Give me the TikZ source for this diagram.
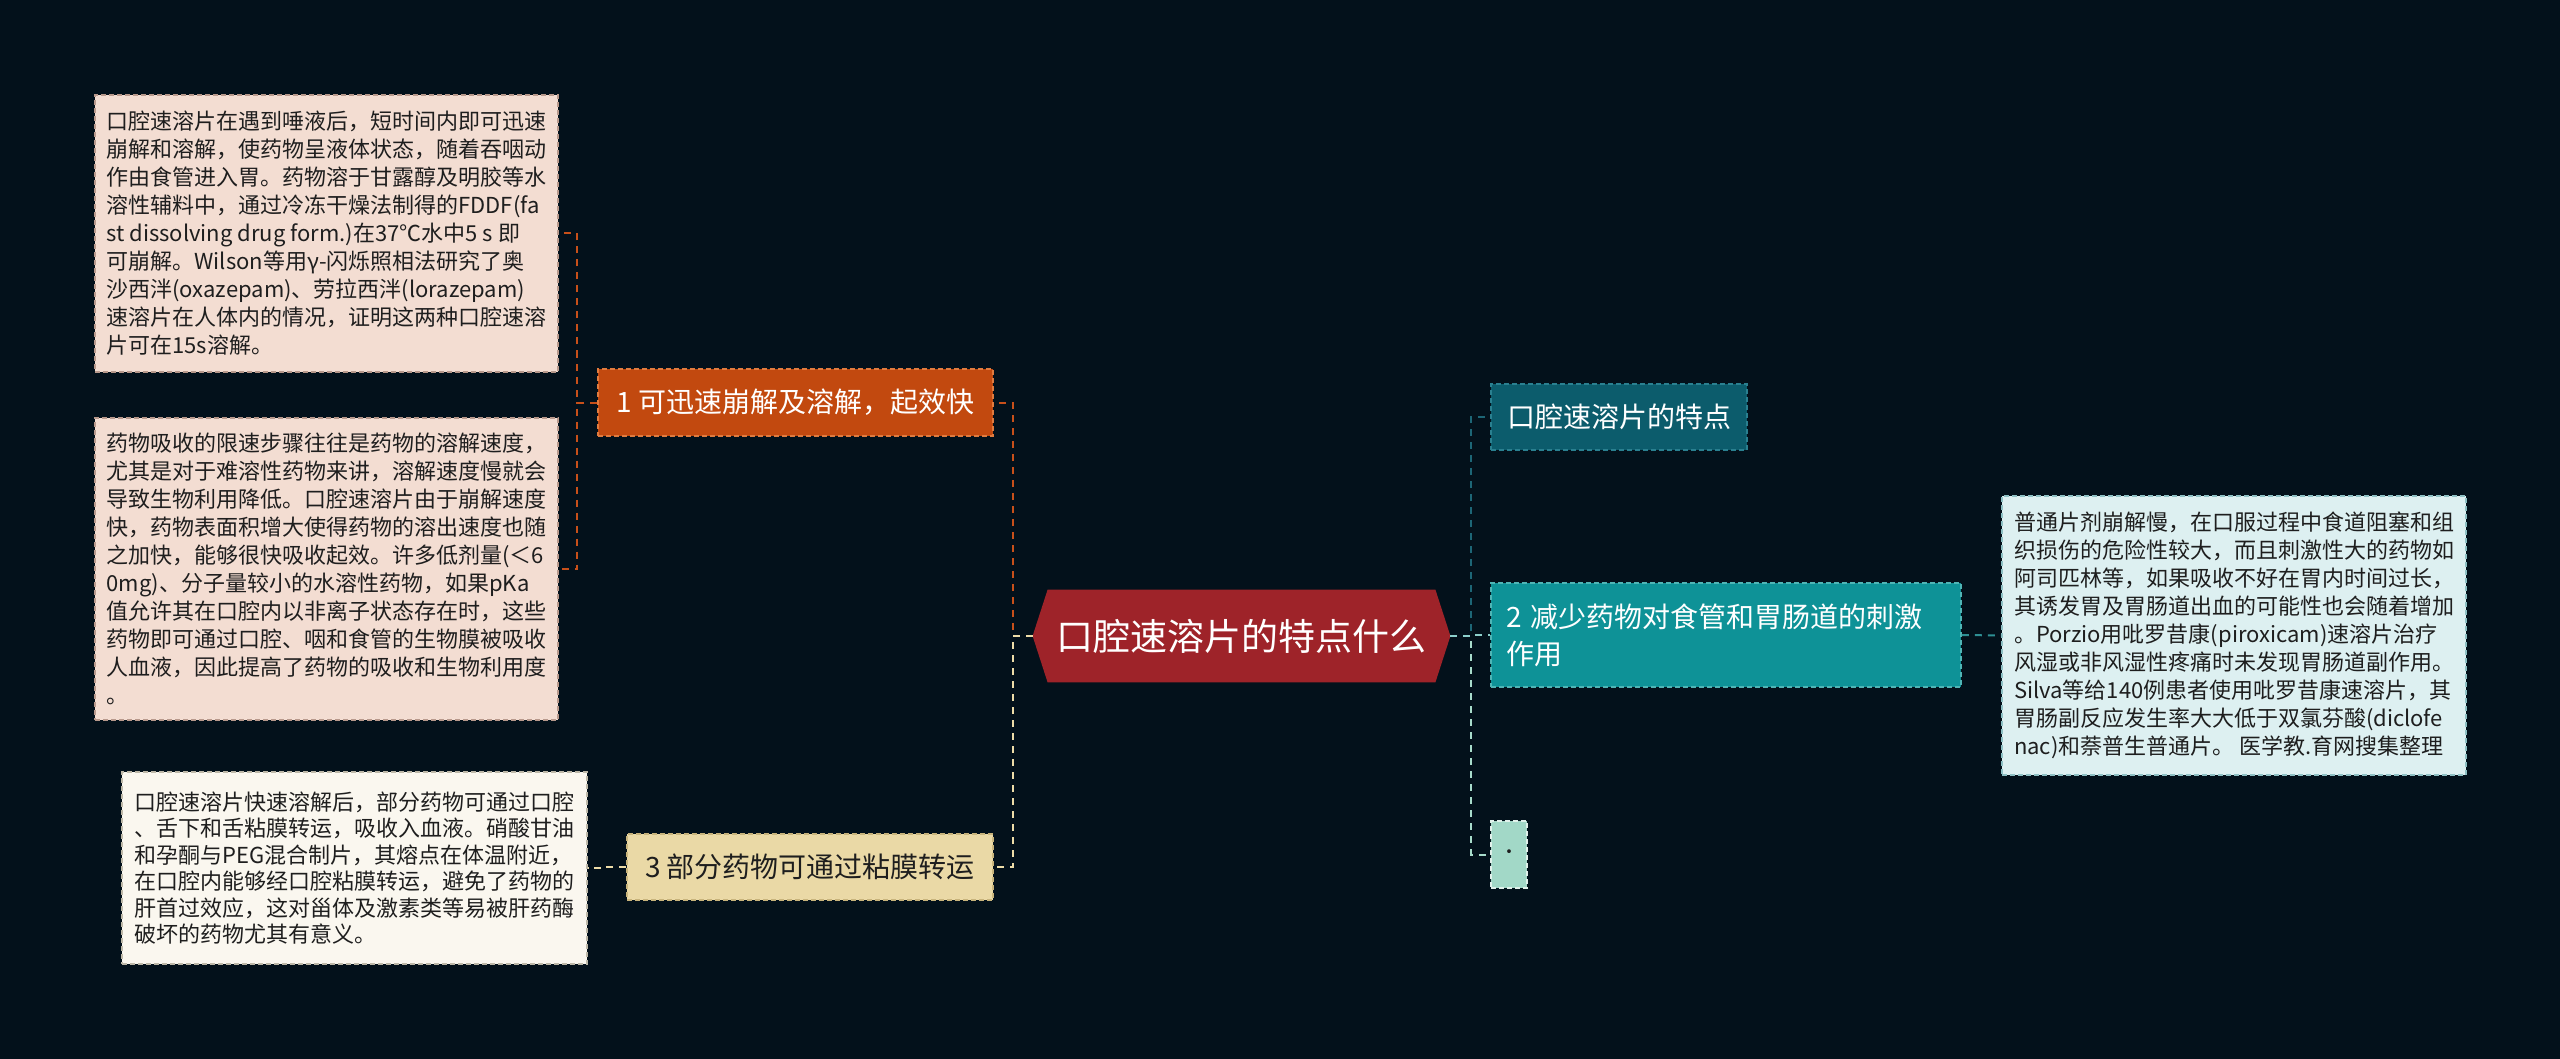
\documentclass[tikz,border=0pt]{standalone}
\usepackage{fontspec}
\setmainfont{Noto Sans CJK SC}
\usetikzlibrary{backgrounds}
\definecolor{bg}{HTML}{03111B}
\definecolor{cred}{HTML}{9E2329}
\definecolor{orangef}{HTML}{C2490F}
\definecolor{oranged}{HTML}{E07B3F}
\definecolor{pinkf}{HTML}{F3DDD2}
\definecolor{pinkd}{HTML}{B8998C}
\definecolor{creamf}{HTML}{EAD9A6}
\definecolor{creamd}{HTML}{C8B47C}
\definecolor{whitef}{HTML}{FAF7EF}
\definecolor{whited}{HTML}{BDB8A8}
\definecolor{tealaf}{HTML}{0C5C6C}
\definecolor{tealad}{HTML}{2A8090}
\definecolor{tealbf}{HTML}{0E9297}
\definecolor{tealbd}{HTML}{4FB5B5}
\definecolor{cyanf}{HTML}{DDF0F1}
\definecolor{cyand}{HTML}{8EC0C4}
\definecolor{mintf}{HTML}{A2D8C7}
\definecolor{mintd}{HTML}{E0F0EA}
\definecolor{corange}{HTML}{C8501A}
\definecolor{ccream}{HTML}{EDDCA8}
\definecolor{cteala}{HTML}{1D6676}
\definecolor{ctealb}{HTML}{8CCFCB}
\definecolor{ctealc}{HTML}{2E8F93}
\definecolor{cmint}{HTML}{A8DCCB}
\definecolor{darktext}{HTML}{1E1E1E}
\tikzset{
  boxborder/.style={line width=0.8pt, dash pattern=on 2.5pt off 1.5pt},
  conn/.style={line width=1pt, dash pattern=on 3.5pt off 3pt},
  leaf/.style={boxborder, inner sep=0pt, align=left, text=darktext,
    font=\fontsize{11}{14}\selectfont},
  branch/.style={boxborder, inner sep=0pt, align=center,
    font=\fontsize{14}{18.5}\selectfont},
}
\begin{document}
\begin{tikzpicture}[x=0.5pt,y=-0.5pt]
\begin{scope}[on background layer]
\fill[bg] (0,0) rectangle (2560,1059);
\end{scope}
\useasboundingbox (0,0) rectangle (2560,1059);

% central node
\node[inner sep=0pt, minimum width=208.5pt, minimum height=46pt, text=white,
  font=\fontsize{18.5}{22}\selectfont] (c) at (1241.5,636) {口腔速溶片的特点什么};
\begin{scope}[on background layer]
\fill[cred] (c.west) -- ([xshift=7.5pt]c.north west) -- ([xshift=-7.5pt]c.north east)
  -- (c.east) -- ([xshift=-7.5pt]c.south east) -- ([xshift=7.5pt]c.south west) -- cycle;
\end{scope}

% left branches
\node[branch, fill=orangef, draw=oranged, text=white, minimum width=197.5pt, minimum height=33.5pt]
  (b1) at (795.5,402.5) {1 可迅速崩解及溶解，起效快};
\node[branch, fill=creamf, draw=creamd, text=darktext, minimum width=183pt, minimum height=33pt]
  (b3) at (810,867) {3 部分药物可通过粘膜转运};

\node[leaf, fill=pinkf, draw=pinkd, minimum width=231.5pt, minimum height=138.5pt]
  (L1) at (326.5,233.5) {口腔速溶片在遇到唾液后，短时间内即可迅速\\崩解和溶解，使药物呈液体状态，随着吞咽动\\作由食管进入胃。药物溶于甘露醇及明胶等水\\溶性辅料中，通过冷冻干燥法制得的FDDF(fa\\st dissolving drug form.)在37℃水中5 s 即\\可崩解。Wilson等用γ-闪烁照相法研究了奥\\沙西泮(oxazepam)、劳拉西泮(lorazepam)\\速溶片在人体内的情况，证明这两种口腔速溶\\片可在15s溶解。};
\node[leaf, fill=pinkf, draw=pinkd, minimum width=231.5pt, minimum height=151pt]
  (L2) at (326.5,569) {药物吸收的限速步骤往往是药物的溶解速度，\\尤其是对于难溶性药物来讲，溶解速度慢就会\\导致生物利用降低。口腔速溶片由于崩解速度\\快，药物表面积增大使得药物的溶出速度也随\\之加快，能够很快吸收起效。许多低剂量(＜6\\0mg)、分子量较小的水溶性药物，如果pKa\\值允许其在口腔内以非离子状态存在时，这些\\药物即可通过口腔、咽和食管的生物膜被吸收\\人血液，因此提高了药物的吸收和生物利用度\\。};
\node[leaf, fill=whitef, draw=whited, minimum width=232.5pt, minimum height=96pt,
  font=\fontsize{11}{13.2}\selectfont]
  (L3) at (354.5,868) {口腔速溶片快速溶解后，部分药物可通过口腔\\、舌下和舌粘膜转运，吸收入血液。硝酸甘油\\和孕酮与PEG混合制片，其熔点在体温附近，\\在口腔内能够经口腔粘膜转运，避免了药物的\\肝首过效应，这对甾体及激素类等易被肝药酶\\破坏的药物尤其有意义。};

% right branches
\node[branch, fill=tealaf, draw=tealad, text=white, minimum width=128pt, minimum height=33pt]
  (r1) at (1619,417) {口腔速溶片的特点};
\node[branch, fill=tealbf, draw=tealbd, text=white, align=left, text width=220pt,
  inner xsep=7.5pt, minimum height=52pt]
  (r2) at (1726,635) {2 减少药物对食管和胃肠道的刺激\\作用};
\node[branch, fill=mintf, draw=mintd, text=darktext, minimum width=18pt, minimum height=33.5pt,
  font=\fontsize{9}{11}\selectfont]
  (r3) at (1509,854.5) {·};
\node[leaf, fill=cyanf, draw=cyand, minimum width=232pt, minimum height=139.5pt]
  (RC) at (2234,635.5) {普通片剂崩解慢，在口服过程中食道阻塞和组\\织损伤的危险性较大，而且刺激性大的药物如\\阿司匹林等，如果吸收不好在胃内时间过长，\\其诱发胃及胃肠道出血的可能性也会随着增加\\。Porzio用吡罗昔康(piroxicam)速溶片治疗\\风湿或非风湿性疼痛时未发现胃肠道副作用。\\Silva等给140例患者使用吡罗昔康速溶片，其\\胃肠副反应发生率大大低于双氯芬酸(diclofe\\nac)和萘普生普通片。 医学教.育网搜集整理};

% connectors
\draw[conn, draw=corange] (c.west) -- ++(-20,0) |- (b1.east);
\draw[conn, draw=ccream] (c.west) -- ++(-20,0) |- (b3.east);
\draw[conn, draw=corange] (b1.west) -- ++(-20,0) |- (L1.east);
\draw[conn, draw=corange] (b1.west) -- ++(-20,0) |- (L2.east);
\draw[conn, draw=ccream] (b3.west) -- ++(-20,0) |- (L3.east);
\draw[conn, draw=cteala] (c.east) -- ++(21,0) |- (r1.west);
\draw[conn, draw=cmint] (c.east) -- ++(21,0) |- (r3.west);
\draw[conn, draw=ctealb] (c.east) -- ++(21,0) |- (r2.west);
\draw[conn, draw=ctealc] (r2.east) -- (RC.west);
\end{tikzpicture}
\end{document}
